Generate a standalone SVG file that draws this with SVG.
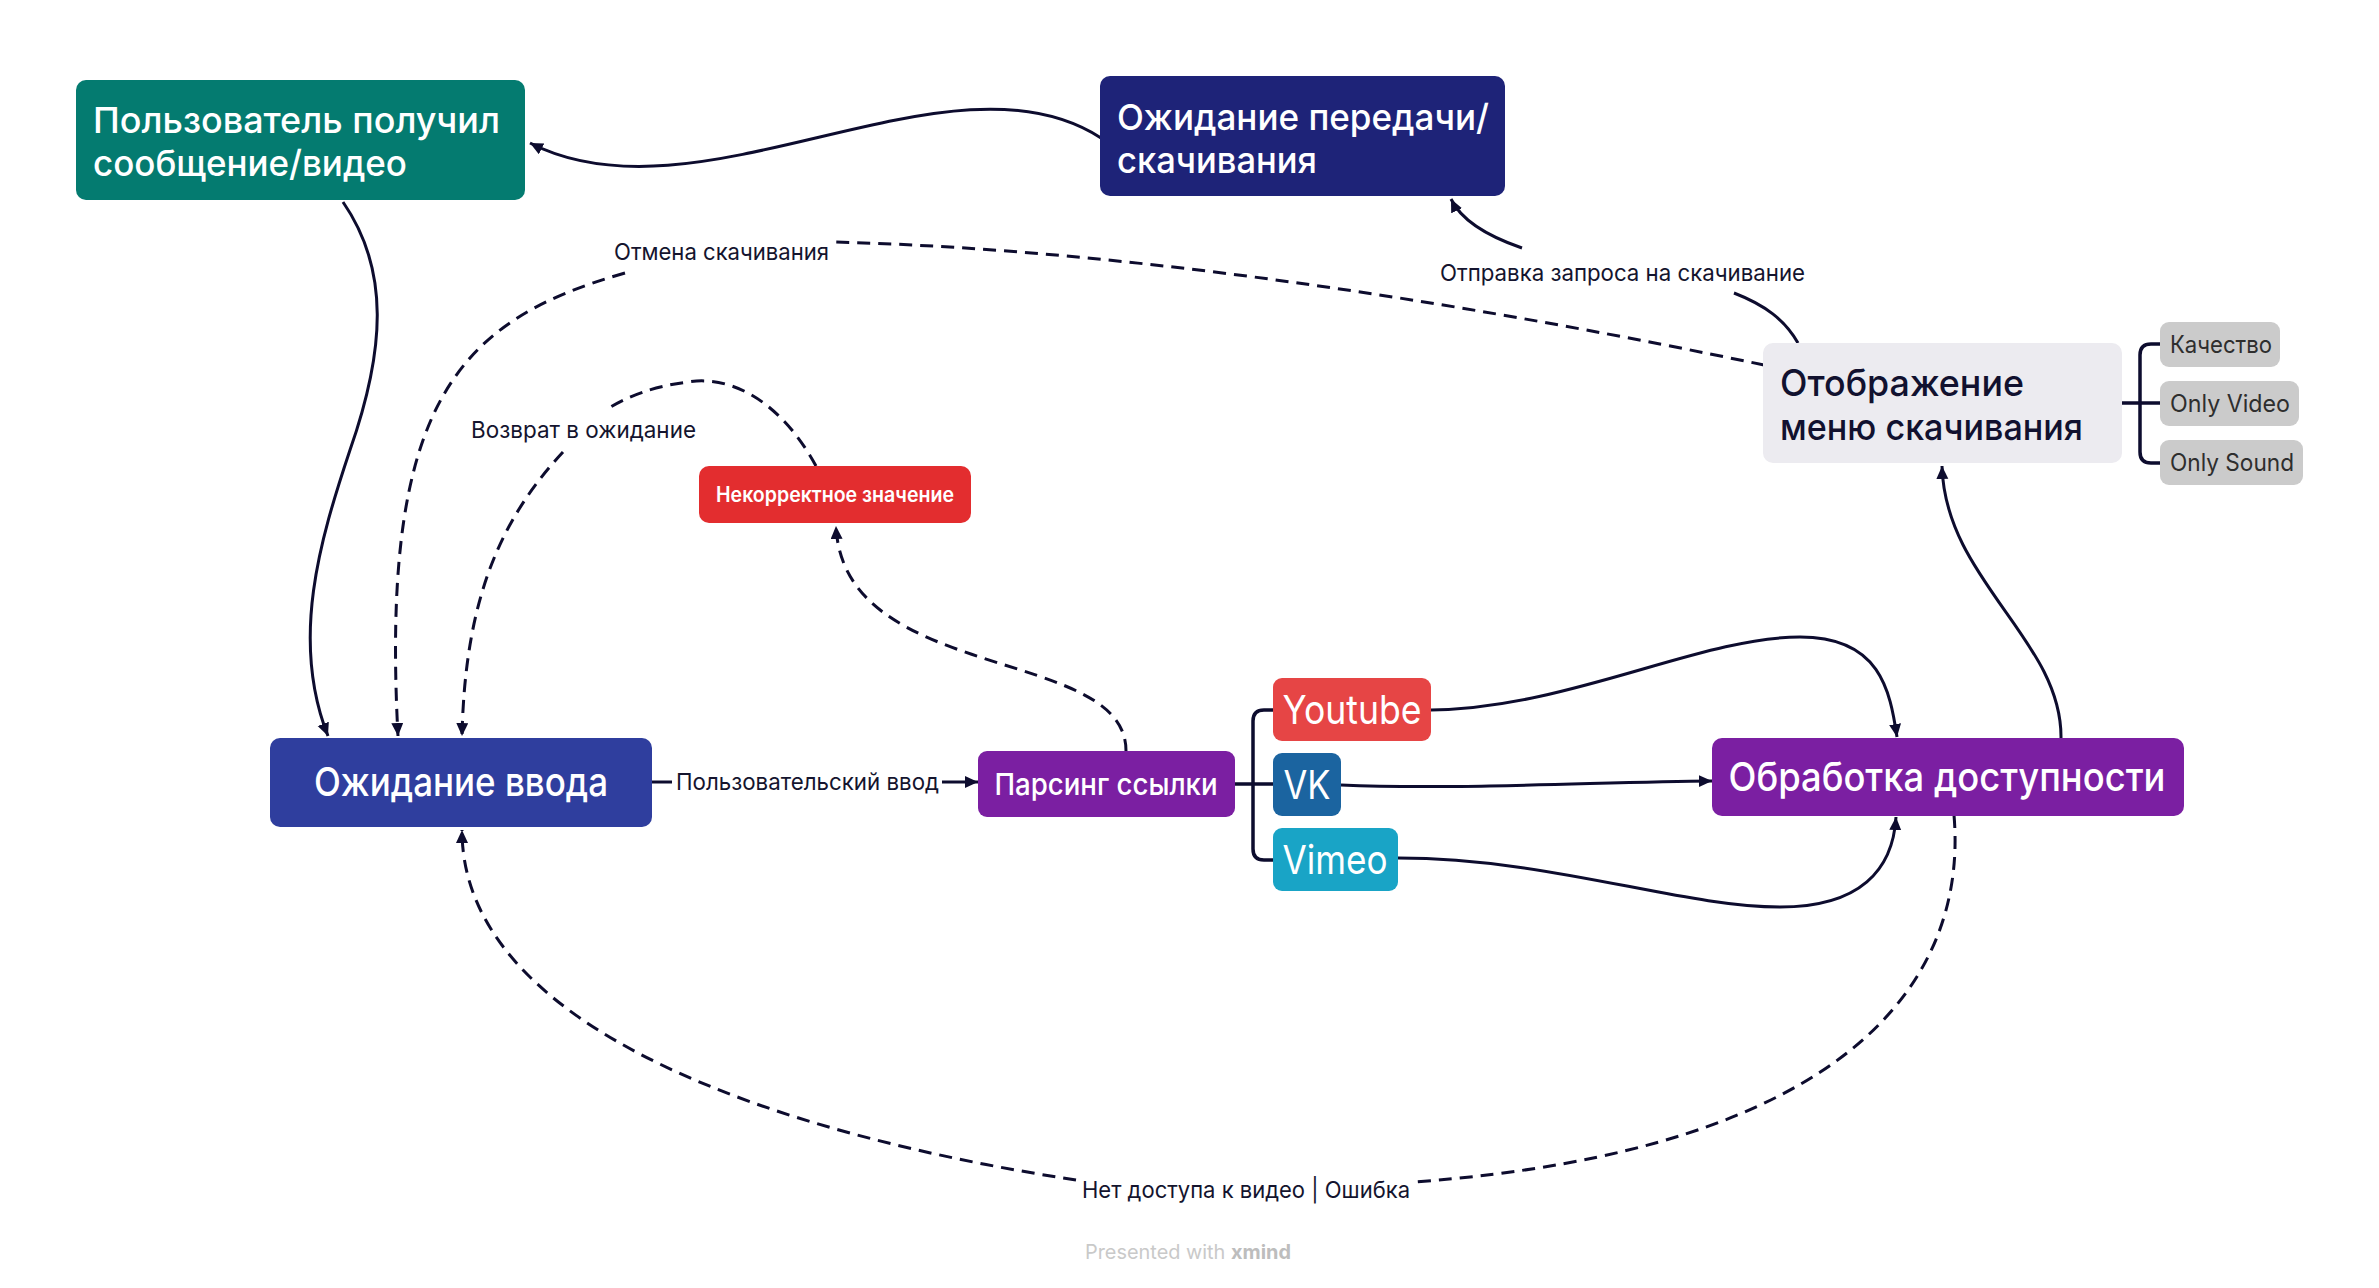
<svg xmlns="http://www.w3.org/2000/svg" width="2379" height="1288" viewBox="0 0 2379 1288">
<defs>
<marker id="arr" markerUnits="userSpaceOnUse" markerWidth="16" markerHeight="14" refX="13" refY="6" orient="auto">
<path d="M0,0 L13,6 L0,12 z" fill="#0D0C2E"/>
</marker>
<style>
.t{font-family:Inter,"Noto Sans","Liberation Sans",sans-serif;}
.w{fill:#FFFFFF;font-weight:500;}
.lbl{font-family:Inter,"Noto Sans","Liberation Sans",sans-serif;font-size:23px;fill:#14142E;}
.c{fill:none;stroke:#0D0C2E;stroke-width:3;}
.d{fill:none;stroke:#0D0C2E;stroke-width:3;stroke-dasharray:13 8;}
.br{fill:none;stroke:#0D0C2E;stroke-width:3.5;}
.sub{fill:#CBCBCB;}
.subt{font-family:Inter,"Noto Sans","Liberation Sans",sans-serif;font-size:24px;fill:#2E2E2E;}
</style>
</defs>
<rect width="2379" height="1288" fill="#FFFFFF"/>

<g id="connectors">
<path class="c" d="M1101 138 C950 40, 700 230, 530 143" marker-end="url(#arr)"/>
<path class="c" d="M343 202 C390 270, 385 350, 350 450 C320 540, 290 640, 328 736" marker-end="url(#arr)"/>
<path class="d" d="M1764 365 C1500 310, 1150 250, 834 242"/>
<path class="d" d="M625 273 C460 320, 380 400, 398 736" marker-end="url(#arr)"/>
<path class="d" d="M816 466 C780 400, 730 375, 688 382 C655 386, 628 396, 609 408"/>
<path class="d" d="M563 452 C500 520, 465 600, 462 736" marker-end="url(#arr)"/>
<path class="d" d="M1126 752 C1128 645, 843 685, 836 526" marker-end="url(#arr)"/>
<path class="c" d="M652 782 H672"/>
<path class="c" d="M942 782 H978" marker-end="url(#arr)"/>
<path class="br" d="M1235 784 H1273 M1273 710 H1264 Q1253 710 1253 721 V849 Q1253 860 1264 860 H1273"/>
<path class="c" d="M1431 710 C1570 708, 1700 637, 1800 637 C1880 637, 1890 690, 1897 737" marker-end="url(#arr)"/>
<path class="c" d="M1341 785 C1450 790, 1600 782, 1712 781" marker-end="url(#arr)"/>
<path class="c" d="M1398 858 C1550 858, 1680 907, 1780 907 C1860 907, 1893 870, 1896 817" marker-end="url(#arr)"/>
<path class="c" d="M2061 738 C2062 640, 1945 580, 1942 466" marker-end="url(#arr)"/>
<path class="c" d="M1798 343 C1785 320, 1765 305, 1734 293"/>
<path class="c" d="M1522 248 C1490 237, 1462 222, 1451 199" marker-end="url(#arr)"/>
<path class="d" d="M1954 815 C1968 980, 1850 1150, 1414 1182"/>
<path class="d" d="M1076 1180 C780 1135, 462 1030, 462 830" marker-end="url(#arr)"/>
<path class="br" d="M2122 403 H2160 M2162 344 H2151 Q2140 344 2140 355 V452 Q2140 463 2151 463 H2162"/>
</g>

<g id="labels">
<text class="lbl" x="676" y="790" textLength="263" lengthAdjust="spacingAndGlyphs">Пользовательский ввод</text>
<text class="lbl" x="614" y="260" textLength="215" lengthAdjust="spacingAndGlyphs">Отмена скачивания</text>
<text class="lbl" x="471" y="438" textLength="225" lengthAdjust="spacingAndGlyphs">Возврат в ожидание</text>
<text class="lbl" x="1440" y="281" textLength="365" lengthAdjust="spacingAndGlyphs">Отправка запроса на скачивание</text>
<text class="lbl" x="1082" y="1198" textLength="328" lengthAdjust="spacingAndGlyphs">Нет доступа к видео | Ошибка</text>
</g>

<g id="node-user-received">
<rect x="76" y="80" width="449" height="120" rx="10" fill="#047B70"/>
<text class="t w" font-size="36" x="93" y="133" textLength="407" lengthAdjust="spacingAndGlyphs">Пользователь получил</text>
<text class="t w" font-size="36" x="93" y="176" textLength="314" lengthAdjust="spacingAndGlyphs">сообщение/видео</text>
</g>

<g id="node-wait-download">
<rect x="1100" y="76" width="405" height="120" rx="10" fill="#1E2378"/>
<text class="t w" font-size="36" x="1117" y="130" textLength="372" lengthAdjust="spacingAndGlyphs">Ожидание передачи/</text>
<text class="t w" font-size="36" x="1117" y="173" textLength="200" lengthAdjust="spacingAndGlyphs">скачивания</text>
</g>

<g id="node-menu">
<rect x="1763" y="343" width="359" height="120" rx="10" fill="#ECEBF0"/>
<text class="t" font-size="37" font-weight="500" fill="#11112F" x="1780" y="396" textLength="244" lengthAdjust="spacingAndGlyphs">Отображение</text>
<text class="t" font-size="37" font-weight="500" fill="#11112F" x="1780" y="440" textLength="303" lengthAdjust="spacingAndGlyphs">меню скачивания</text>
</g>

<g id="node-quality">
<rect class="sub" x="2160" y="322" width="120" height="45" rx="9"/>
<text class="subt" x="2170" y="353" textLength="102" lengthAdjust="spacingAndGlyphs">Качество</text>
</g>
<g id="node-only-video">
<rect class="sub" x="2160" y="381" width="139" height="45" rx="9"/>
<text class="subt" x="2170" y="412" textLength="120" lengthAdjust="spacingAndGlyphs">Only Video</text>
</g>
<g id="node-only-sound">
<rect class="sub" x="2160" y="440" width="143" height="45" rx="9"/>
<text class="subt" x="2170" y="471" textLength="124" lengthAdjust="spacingAndGlyphs">Only Sound</text>
</g>

<g id="node-wait-input">
<rect x="270" y="738" width="382" height="89" rx="10" fill="#2F3E9E"/>
<text class="t w" font-size="40" x="461" y="796" text-anchor="middle" textLength="294" lengthAdjust="spacingAndGlyphs">Ожидание ввода</text>
</g>

<g id="node-parsing">
<rect x="978" y="751" width="257" height="66" rx="9" fill="#7B1FA2"/>
<text class="t w" font-size="30" x="1106" y="795" text-anchor="middle" textLength="223" lengthAdjust="spacingAndGlyphs">Парсинг ссылки</text>
</g>

<g id="node-invalid">
<rect x="699" y="466" width="272" height="57" rx="10" fill="#E32D2F"/>
<text class="t" font-size="21" font-weight="600" fill="#FFFFFF" x="835" y="502" text-anchor="middle" textLength="238" lengthAdjust="spacingAndGlyphs">Некорректное значение</text>
</g>

<g id="node-youtube">
<rect x="1273" y="678" width="158" height="63" rx="9" fill="#E64545"/>
<text class="t" font-size="40" fill="#FFFFFF" x="1352" y="724" text-anchor="middle" textLength="139" lengthAdjust="spacingAndGlyphs">Youtube</text>
</g>
<g id="node-vk">
<rect x="1273" y="753" width="68" height="63" rx="9" fill="#1B64A0"/>
<text class="t" font-size="40" fill="#FFFFFF" x="1307" y="799" text-anchor="middle" textLength="47" lengthAdjust="spacingAndGlyphs">VK</text>
</g>
<g id="node-vimeo">
<rect x="1273" y="828" width="125" height="63" rx="9" fill="#19A4C6"/>
<text class="t" font-size="40" fill="#FFFFFF" x="1335" y="874" text-anchor="middle" textLength="105" lengthAdjust="spacingAndGlyphs">Vimeo</text>
</g>

<g id="node-availability">
<rect x="1712" y="738" width="472" height="78" rx="10" fill="#7B1FA2"/>
<text class="t w" font-size="40" x="1947" y="791" text-anchor="middle" textLength="437" lengthAdjust="spacingAndGlyphs">Обработка доступности</text>
</g>

<text x="1085" y="1259" font-family="Inter,'Noto Sans','Liberation Sans',sans-serif" font-size="20" fill="#C9C9C9" textLength="206" lengthAdjust="spacingAndGlyphs">Presented with <tspan font-weight="700" fill="#BDBDBD">xmind</tspan></text>
</svg>
